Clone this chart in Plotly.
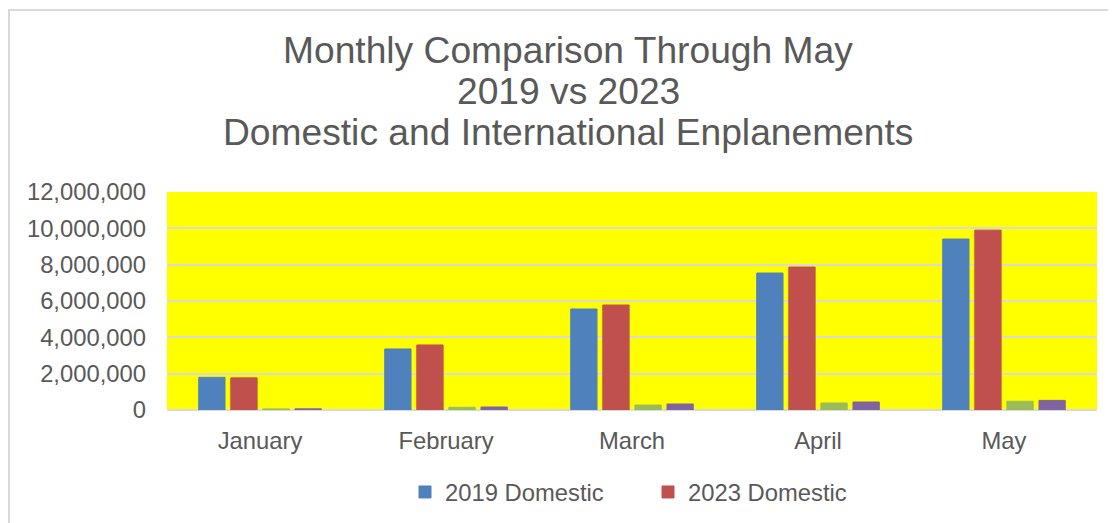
import plotly.graph_objects as go

months = ["January", "February", "March", "April", "May"]
dom_2019 = [1800000, 3360000, 5560000, 7540000, 9410000]
dom_2023 = [1770000, 3580000, 5780000, 7870000, 9900000]
intl_2019 = [60000, 150000, 275000, 385000, 480000]
intl_2023 = [65000, 165000, 330000, 440000, 530000]
title_lines = ["Monthly Comparison Through May", "2019 vs 2023",
               "Domestic and International Enplanements"]

series = [
    ("2019 Domestic", dom_2019, "#4F81BD", True),
    ("2023 Domestic", dom_2023, "#C0504D", True),
    ("2019 International", intl_2019, "#9BBB59", False),
    ("2023 International", intl_2023, "#8064A2", False),
]

fig = go.Figure()
for name, vals, color, show in series:
    fig.add_trace(go.Bar(
        x=months, y=vals, name=name, showlegend=show,
        marker=dict(color=color, line=dict(color=color, width=1)),
    ))

OFF = 8  # default body margin of the page
PW, PH = 1116, 523
# plot area in page coords
PX0, PX1, PY0, PY1 = 167, 1097, 192, 410
W, H = PW - OFF, PH - OFF
L, T = PX0 - OFF, PY0 - OFF
pw, ph = PX1 - PX0, PY1 - PY0
R, B = W - L - pw, H - T - ph
gray = "#595959"
FS = 23.8


def py(p):  # page y -> paper y
    return (PY1 - p) / ph


def px(p):  # page x -> paper x
    return (p - PX0) / pw


annotations = []
for txt, yc in zip(title_lines, [50, 91, 132]):
    annotations.append(dict(
        text=txt, x=px(568), xref="paper", xanchor="center",
        y=py(yc), yref="paper", yanchor="middle",
        showarrow=False, font=dict(size=37.2, color=gray),
    ))

fig.update_layout(
    width=W, height=H,
    margin=dict(l=L, r=R, t=T, b=B, autoexpand=False),
    paper_bgcolor="white",
    plot_bgcolor="#FFFF00",
    font=dict(family="Liberation Sans, Arial, sans-serif", color=gray, size=FS),
    annotations=annotations,
    barmode="group",
    bargap=0.31,
    bargroupgap=0.18,
    showlegend=True,
    legend=dict(
        orientation="h", x=px(405), xanchor="left",
        y=1 - (492 - OFF) / H, yref="container", yanchor="middle",
        font=dict(size=FS, color=gray),
        entrywidth=198, entrywidthmode="pixels",
        bgcolor="rgba(0,0,0,0)",
    ),
    xaxis=dict(
        showgrid=False, showline=False, zeroline=False,
        tickfont=dict(size=FS, color=gray),
        ticks="", ticklabelstandoff=14,
    ),
    yaxis=dict(
        range=[0, 12000000], dtick=2000000, tickformat=",",
        showgrid=True, gridcolor="#D9D9D9", gridwidth=2,
        zeroline=True, zerolinecolor="#D9D9D9", zerolinewidth=2,
        showline=False, ticks="", ticklabelstandoff=20,
        tickfont=dict(size=FS, color=gray),
    ),
    shapes=[dict(
        type="rect", xref="paper", yref="paper",
        x0=px(9), x1=px(PW + 10),
        y0=py(PH + 10), y1=py(10),
        line=dict(color="#D9D9D9", width=2),
        fillcolor="rgba(0,0,0,0)", layer="below",
    )],
)

fig.write_html("out.html")
